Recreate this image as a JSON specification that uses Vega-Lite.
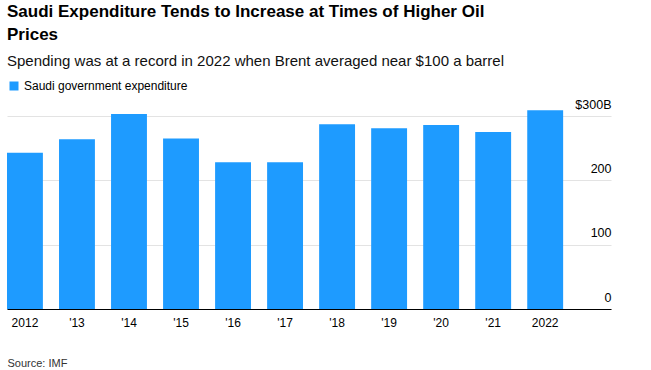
{
  "$schema": "https://vega.github.io/schema/vega-lite/v6.json",
  "width": 604,
  "height": 193,
  "autosize": {"type": "none"},
  "padding": {"left": 7, "top": 116, "right": 40, "bottom": 61},
  "background": "white",
  "title": {
    "text": ["Saudi Expenditure Tends to Increase at Times of Higher Oil", "Prices"],
    "subtitle": "Spending was at a record in 2022 when Brent averaged near $100 a barrel",
    "anchor": "start",
    "frame": "group",
    "font": "Liberation Sans",
    "fontSize": 17,
    "fontWeight": "bold",
    "color": "#000000",
    "lineHeight": 23,
    "subtitleFont": "Liberation Sans",
    "subtitleFontSize": 15,
    "subtitleColor": "#111111",
    "subtitlePadding": 10,
    "offset": 10
  },
  "data": {
    "values": [
      {"year": "2012", "spend": 243},
      {"year": "'13", "spend": 264},
      {"year": "'14", "spend": 303},
      {"year": "'15", "spend": 265},
      {"year": "'16", "spend": 228},
      {"year": "'17", "spend": 228},
      {"year": "'18", "spend": 287},
      {"year": "'19", "spend": 281},
      {"year": "'20", "spend": 286},
      {"year": "'21", "spend": 275},
      {"year": "2022", "spend": 309}
    ]
  },
  "mark": {"type": "bar"},
  "encoding": {
    "x": {
      "field": "year",
      "type": "ordinal",
      "sort": null,
      "scale": {
        "domain": ["2012", "'13", "'14", "'15", "'16", "'17", "'18", "'19", "'20", "'21", "2022"],
        "paddingInner": 0.31,
        "paddingOuter": 0.46,
        "align": 0
      },
      "axis": {
        "title": "Source: IMF",
        "titleAnchor": "start",
        "titleAlign": "left",
        "titleFont": "Liberation Sans",
        "titleFontSize": 11,
        "titleFontWeight": "normal",
        "titleColor": "#333333",
        "titlePadding": 29,
        "labelAngle": 0,
        "labelFont": "Liberation Sans",
        "labelFontSize": 12,
        "labelColor": "#000000",
        "labelPadding": 8,
        "ticks": false,
        "domainColor": "#000000",
        "domainWidth": 1,
        "grid": false
      }
    },
    "y": {
      "field": "spend",
      "type": "quantitative",
      "scale": {"domain": [0, 300], "nice": false},
      "axis": {
        "orient": "right",
        "title": null,
        "values": [0, 100, 200, 300],
        "labelExpr": "datum.value == 300 ? '$300B' : datum.label",
        "grid": true,
        "gridColor": "#e3e3e3",
        "gridWidth": 1,
        "domain": false,
        "ticks": false,
        "labelAlign": "right",
        "labelBaseline": "alphabetic",
        "labelOffset": -8,
        "labelPadding": 0,
        "labelFont": "Liberation Sans",
        "labelFontSize": 12.5,
        "labelColor": "#000000",
        "labelBound": false,
        "labelFlush": false,
        "labelOverlap": false,
        "encode": {"labels": {"update": {"dx": {"signal": "datum.value === 300 ? 12 : 0"}}}}
      }
    },
    "color": {
      "datum": "Saudi government expenditure",
      "type": "nominal",
      "scale": {"range": ["#1E9BFF"]},
      "legend": {
        "title": null,
        "orient": "none",
        "legendX": 1,
        "legendY": -36,
        "symbolType": "square",
        "symbolSize": 81,
        "symbolStrokeWidth": 0,
        "labelFont": "Liberation Sans",
        "labelFontSize": 12,
        "labelColor": "#000000",
        "labelOffset": 4,
        "labelLimit": 400,
        "padding": 0
      }
    }
  },
  "config": {"view": {"stroke": null}}
}
